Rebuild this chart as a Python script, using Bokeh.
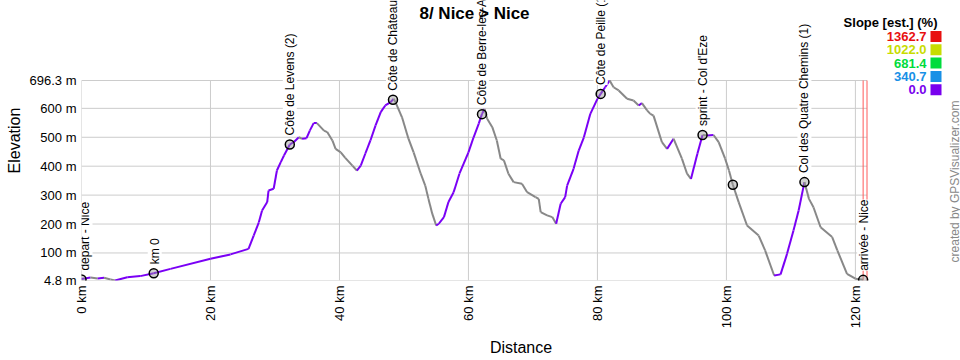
import math
from bokeh.plotting import figure
from bokeh.models import (ColumnDataSource, FixedTicker, LabelSet, Label,
                          BoxAnnotation, Range1d)
from bokeh.core.properties import value
from bokeh.embed import file_html
from bokeh.resources import INLINE

# ---------------- data ----------------
title_text = "8/ Nice > Nice"

dist_km = [0.0, 1.4, 2.5, 3.5, 4.5, 5.2, 7.1, 9.1, 11.2, 13.8, 20.0, 23.1, 25.9,
           26.7, 27.5, 28.0, 28.8, 29.0, 29.8, 30.3, 30.9, 31.4, 32.3, 32.9,
           33.7, 34.2, 34.9, 35.4, 36.0, 36.5, 37.6, 38.1, 38.9, 39.4, 40.2,
           40.9, 42.0, 42.7, 43.3, 44.0, 44.8, 45.6, 46.4, 47.1, 47.9, 48.4,
           48.7, 49.7, 50.7, 51.5, 52.6, 53.3, 53.8, 54.4, 55.0, 55.4, 56.2,
           56.9, 57.7, 58.6, 60.0, 60.8, 61.6, 62.1, 62.5, 62.9, 63.7, 64.4,
           65.0, 65.5, 66.2, 67.0, 68.3, 69.1, 70.4, 70.9, 71.2, 72.2, 73.0,
           73.6, 74.3, 75.0, 75.3, 76.3, 77.1, 77.9, 78.9, 80.0, 80.5, 81.2,
           81.9, 82.5, 83.3, 84.6, 85.6, 86.4, 86.9, 87.7, 88.2, 88.7, 90.0,
           90.8, 91.8, 93.1, 93.9, 94.5, 95.5, 96.3, 97.0, 98.0, 98.8, 99.8,
           100.4, 101.0, 101.9, 103.2, 105.0, 106.0, 107.4, 108.4, 109.4,
           110.4, 111.2, 112.1, 112.8, 113.5, 114.6, 116.4, 117.2, 118.7,
           120.0, 121.2]
elev_m = [10, 15, 12, 14, 8, 4.8, 16, 20, 30, 45, 80, 95, 114,
          160, 206, 247, 276, 316, 322, 385, 414, 437, 475, 483,
          500, 495, 497, 523, 549, 549, 523, 518, 489, 460, 448,
          429, 402, 385, 402, 443, 489, 541, 587, 610, 621, 633,
          621, 569, 495, 448, 374, 333, 287, 235, 195, 201, 224,
          276, 310, 374, 448, 500, 547, 581, 598, 564, 535, 489,
          426, 420, 374, 345, 339, 310, 293, 287, 241, 230, 224,
          201, 270, 293, 333, 391, 454, 500, 581, 633, 650, 673,
          696.3, 673, 662, 633, 627, 610, 618, 593, 581, 575, 483,
          460, 495, 426, 374, 356, 443, 508, 506, 508, 483, 426,
          385, 336, 276, 195, 160, 109, 22, 26, 97,
          178, 247, 345, 287, 258, 189, 155, 109, 28,
          11, 7]

wp_name = ["départ - Nice", "km 0", "Côte de Levens (2)", "Côte de Châteauneuf",
           "Côte de Berre-les-Alpes", "Côte de Peille (1)", "sprint - Col d'Eze",
           "", "Col des Quatre Chemins (1)", "arrivée - Nice"]
wp_dist = [0.0, 11.2, 32.3, 48.3, 62.1, 80.5, 96.3, 101.0, 112.1, 121.2]
wp_elev = [8, 30, 475, 630, 580, 650, 508, 336, 345, 7]
wp_label_dx = [4, 1, 0, 0, 0, 0, 0, 0, 0, 1]   # label nudges in pixels

x_ticks = [0, 20, 40, 60, 80, 100, 120]
x_end = 121.8
y_ticks = [4.8, 100, 200, 300, 400, 500, 600, 696.3]

slope_values = ["1362.7", "1022.0", "681.4", "340.7", "0.0"]
slope_colors = ["#e81010", "#c8dc00", "#00dc3c", "#1890e6", "#7800ee"]
UP_COLOR = "#7a00f5"
DOWN_COLOR = "#888888"

# ---------------- layout (pixels) ----------------
FONT = "Liberation Sans"
W, H = 960, 360
FL, FB = 81, 280        # frame left / bottom in page pixels
PLOT_R, PLOT_T = 866.5, 80   # right / top of the profile box in page pixels

frame_w = W - FL
frame_h = FB
y_min, y_max = y_ticks[0], y_ticks[-1]
y_top = y_min + (y_max - y_min) * frame_h / (FB - PLOT_T)
x_right = x_end * frame_w / (PLOT_R - FL)

p = figure(width=W, height=H, output_backend="svg", toolbar_location=None,
           x_range=Range1d(0, x_right), y_range=Range1d(y_min, y_top),
           min_border_left=FL, min_border_right=0, min_border_top=0,
           min_border_bottom=H - FB)
p.outline_line_color = None
p.background_fill_color = "white"
p.grid.visible = False

# grid lines, bounded to the profile box
gv = ColumnDataSource(dict(x0=x_ticks, x1=x_ticks, y0=[y_min] * len(x_ticks),
                           y1=[y_max] * len(x_ticks)))
gh = ColumnDataSource(dict(x0=[0] * len(y_ticks), x1=[x_end] * len(y_ticks),
                           y0=y_ticks, y1=y_ticks))
for src in (gv, gh):
    p.segment("x0", "y0", "x1", "y1", source=src, line_color="#cccccc", line_width=1)

# red end lines (route end and box edge)
ends = [dist_km[-1], x_end]
p.segment(x0=ends, x1=ends, y0=[y_min] * 2, y1=[y_max] * 2,
          line_color="#ff5a5a", line_width=1)

# profile segments coloured by slope sign
x0 = dist_km[:-1]; x1 = dist_km[1:]
y0 = elev_m[:-1]; y1 = elev_m[1:]
cols = [UP_COLOR if b >= a else DOWN_COLOR for a, b in zip(y0, y1)]
seg = ColumnDataSource(dict(x0=x0, x1=x1, y0=y0, y1=y1, c=cols))
p.segment("x0", "y0", "x1", "y1", source=seg, line_color="c", line_width=2)

# waypoints
wp = ColumnDataSource(dict(x=wp_dist, y=wp_elev, t=wp_name, dx=wp_label_dx))
p.add_layout(LabelSet(x="x", y="y", text="t", source=wp, angle=math.pi / 2,
                      text_align="left", text_baseline="middle", y_offset=9,
                      x_offset="dx",
                      text_font=value(FONT), text_font_size="12px",
                      text_color="black", background_fill_color="white"))
p.scatter("x", "y", source=wp, size=9, marker="circle", line_color="black",
          line_width=1.5, fill_color="#999999", fill_alpha=0.45)

# axes
p.xaxis.ticker = FixedTicker(ticks=x_ticks)
p.xaxis.major_label_overrides = {t: f"{t} km" for t in x_ticks}
p.xaxis.major_label_orientation = math.pi / 2
p.yaxis.ticker = FixedTicker(ticks=y_ticks)
p.yaxis.major_label_overrides = {t: f"{t:g} m" for t in y_ticks}
for ax in (p.xaxis, p.yaxis):
    ax.axis_line_color = None
    ax.major_tick_line_color = None
    ax.minor_tick_line_color = None
    ax.major_tick_out = 0
    ax.major_tick_in = 0
    ax.minor_tick_out = 0
    ax.minor_tick_in = 0
    ax.major_label_text_font = FONT
    ax.major_label_text_font_size = "13px"
    ax.major_label_text_color = "black"
    ax.major_label_standoff = 5
    ax.axis_label_text_font = FONT
    ax.axis_label_text_font_size = "16px"
    ax.axis_label_text_font_style = "normal"
    ax.axis_label_text_color = "black"
p.xaxis.axis_label = "Distance"
p.yaxis.axis_label = "Elevation"
p.xaxis.axis_label_standoff = 8
p.yaxis.axis_label_standoff = 4


def sx(px):
    return px - FL


def sy(py):
    return FB - py


# title
p.add_layout(Label(x=sx(474), y=sy(13), x_units="screen", y_units="screen",
                   text=title_text, text_align="center", text_baseline="middle",
                   text_font=FONT, text_font_size="17px",
                   text_font_style="bold", text_color="black"))

# slope legend
p.add_layout(Label(x=sx(937), y=sy(22), x_units="screen", y_units="screen",
                   text="Slope [est.] (%)", text_align="right", text_baseline="middle",
                   text_font=FONT, text_font_size="13px",
                   text_font_style="bold", text_color="black"))
for i, (v, c) in enumerate(zip(slope_values, slope_colors)):
    cy = 36 + i * 13.3
    p.add_layout(Label(x=sx(926), y=sy(cy), x_units="screen", y_units="screen",
                       text=v, text_align="right", text_baseline="middle",
                       text_font=FONT, text_font_size="13px",
                       text_font_style="bold", text_color=c))
    p.add_layout(BoxAnnotation(left=sx(930), right=sx(941), top=sy(cy - 5.5),
                               bottom=sy(cy + 5.5), left_units="screen",
                               right_units="screen", top_units="screen",
                               bottom_units="screen", fill_color=c, fill_alpha=1,
                               line_color=None))

# credit
p.add_layout(Label(x=sx(954), y=sy(181), x_units="screen", y_units="screen",
                   text="created by GPSVisualizer.com", angle=math.pi / 2,
                   text_align="center", text_baseline="middle",
                   text_font=FONT, text_font_size="12px",
                   text_color="#888888"))

open("out.html", "w").write(file_html(p, INLINE))
